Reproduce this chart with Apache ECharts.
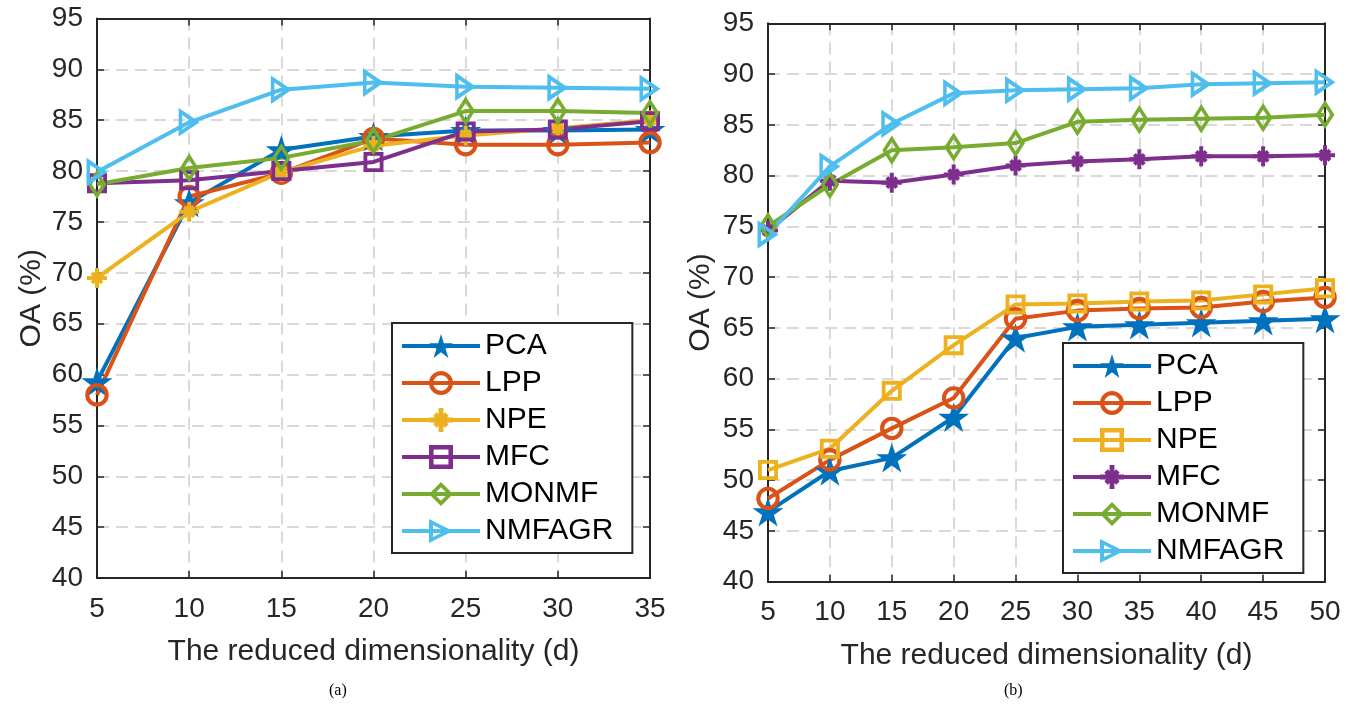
<!DOCTYPE html>
<html><head><meta charset="utf-8">
<script src="https://cdn.jsdelivr.net/npm/echarts@6/dist/echarts.min.js"></script>
<style>html,body{margin:0;padding:0;background:#fff}#c{width:1352px;height:711px}</style>
</head><body><div id="c"></div>
<script>
// ---- data ----
const dimsA = [5, 10, 15, 20, 25, 30, 35];
const dimsB = [5, 10, 15, 20, 25, 30, 35, 40, 45, 50];
const methods = ['PCA', 'LPP', 'NPE', 'MFC', 'MONMF', 'NMFAGR'];

const pcaA    = [59.3, 76.9, 82.1, 83.4, 84.0, 84.0, 84.1];
const lppA    = [58.0, 77.5, 79.8, 83.2, 82.6, 82.6, 82.8];
const npeA    = [69.5, 76.0, 79.9, 82.5, 83.5, 84.2, 85.0];
const mfcA    = [78.8, 79.1, 80.0, 80.9, 83.9, 84.1, 84.9];
const monmfA  = [78.7, 80.3, 81.3, 83.0, 85.9, 85.9, 85.7];
const nmfagrA = [79.9, 84.8, 88.0, 88.7, 88.3, 88.2, 88.1];

const pcaB    = [46.9, 50.9, 52.2, 56.2, 64.0, 65.1, 65.3, 65.5, 65.7, 65.9];
const lppB    = [48.2, 52.0, 55.1, 58.1, 65.9, 66.7, 66.9, 67.0, 67.6, 68.0];
const npeB    = [51.0, 53.1, 58.8, 63.3, 67.3, 67.4, 67.6, 67.7, 68.3, 68.9];
const mfcB    = [74.6, 79.5, 79.3, 80.1, 81.0, 81.4, 81.6, 81.9, 81.9, 82.0];
const monmfB  = [75.0, 79.1, 82.5, 82.8, 83.2, 85.3, 85.5, 85.6, 85.7, 86.0];
const nmfagrB = [74.2, 80.9, 85.1, 88.1, 88.4, 88.5, 88.6, 89.0, 89.1, 89.2];

const yTicks = [40, 45, 50, 55, 60, 65, 70, 75, 80, 85, 90, 95];
const xTicksA = [5, 10, 15, 20, 25, 30, 35];
const xTicksB = [5, 10, 15, 20, 25, 30, 35, 40, 45, 50];

const xTitle = 'The reduced dimensionality (d)';
const yTitle = 'OA (%)';
const captions = ['(a)', '(b)'];

// ---- styles ----
const FONT = '"Liberation Sans", Arial, Helvetica, sans-serif';
const TXT = '#262626';
const colors = {PCA:'#0072BD', LPP:'#D95319', NPE:'#EDB120', MFC:'#7E2F8E', MONMF:'#77AC30', NMFAGR:'#4DBEEE'};
// marker shapes (filled outlines, so stroke width does not depend on borderWidth)
const STAR = 'path://M50,0L61.2,34.5L97.6,34.5L68.2,55.9L79.4,90.5L50,69.1L20.6,90.5L31.8,55.9L2.4,34.5L38.8,34.5Z';
const ASTER = 'path://M0,40L100,40L100,60L0,60Z M40,0L60,0L60,100L40,100Z' +
  'M32.1,17.9L82.1,67.9L67.9,82.1L17.9,32.1Z M17.9,67.9L67.9,17.9L82.1,32.1L32.1,82.1Z';
const RING = 'path://M100,50A50,50 0 1,1 0,50A50,50 0 1,1 100,50Z M82.6,50A32.6,32.6 0 1,0 17.4,50A32.6,32.6 0 1,0 82.6,50Z';
const SQR = 'path://M0,0L100,0L100,100L0,100Z M19,19L19,81L81,81L81,19Z';
const DIA = 'path://M50,0L100,62.5L50,125L0,62.5Z M50,27.8L22.3,62.5L50,97.2L77.7,62.5Z';
const TRI = 'path://M0,0L100,58.3L0,116.7Z M16.75,29.2L16.75,87.5L66.75,58.3Z';
const markers = {
  star:    {symbol: STAR, size: 31},
  circle:  {symbol: RING, size: 23.5},
  aster:   {symbol: ASTER, size: 20},
  square:  {symbol: SQR, size: 20},
  diamond: {symbol: DIA, size: [23.5, 29.4]},
  tri:     {symbol: TRI, size: [24.5, 28.6]}
};
const markA = {PCA:'star', LPP:'circle', NPE:'aster', MFC:'square', MONMF:'diamond', NMFAGR:'tri'};
const markB = {PCA:'star', LPP:'circle', NPE:'square', MFC:'aster', MONMF:'diamond', NMFAGR:'tri'};

function mk(name, label, xs, ys, axisIdx, markKey) {
  const c = colors[name];
  const m = markers[markKey];
  return {
    type: 'line', name: label,
    xAxisIndex: axisIdx, yAxisIndex: axisIdx,
    data: xs.map((x, i) => [x, ys[i]]),
    symbol: m.symbol, symbolSize: m.size, symbolKeepAspect: true,
    showSymbol: true, clip: false,
    lineStyle: {color: c, width: 4},
    itemStyle: {color: c, borderWidth: 0},
    emphasis: {disabled: true},
    z: 3
  };
}

const seriesA = [pcaA, lppA, npeA, mfcA, monmfA, nmfagrA];
const seriesB = [pcaB, lppB, npeB, mfcB, monmfB, nmfagrB];
const series = [];
methods.forEach((m, i) => series.push(mk(m, m, dimsA, seriesA[i], 0, markA[m])));
methods.forEach((m, i) => series.push(mk(m, m + '#b', dimsB, seriesB[i], 2, markB[m])));

const gridLine = {show: true, lineStyle: {color: '#d9d9d9', width: 2, type: [12, 7]}};
const axLine = {show: true, onZero: false, lineStyle: {color: TXT, width: 2}};
const tick = {show: true, inside: true, length: 7, lineStyle: {color: TXT, width: 1.5}};
const lab = {color: TXT, fontSize: 28, fontFamily: FONT};

function xAx(grid, ticks, main) {
  return {
    type: 'value', gridIndex: grid, min: ticks[0], max: ticks[ticks.length - 1], interval: 5,
    position: main ? 'bottom' : 'top',
    axisLine: axLine, axisTick: tick,
    axisLabel: main ? Object.assign({margin: 17}, lab) : {show: false},
    splitLine: main ? gridLine : {show: false},
    name: main ? xTitle : '', nameLocation: 'middle', nameGap: 59,
    nameTextStyle: {color: TXT, fontSize: 30, fontFamily: FONT}
  };
}
function yAx(grid, main, gap) {
  return {
    type: 'value', gridIndex: grid, min: yTicks[0], max: yTicks[yTicks.length - 1], interval: 5,
    position: main ? 'left' : 'right',
    axisLine: axLine, axisTick: tick,
    axisLabel: main ? Object.assign({margin: 14}, lab) : {show: false},
    splitLine: main ? gridLine : {show: false},
    name: main ? yTitle : '', nameLocation: 'middle', nameGap: gap, nameRotate: 90,
    nameTextStyle: {color: TXT, fontSize: 30, fontFamily: FONT}
  };
}

function legend(left, top, names) {
  return {
    orient: 'vertical', left: left, top: top,
    data: names,
    itemWidth: 78, itemHeight: 30, itemGap: 7,
    padding: [8, 19, 7, 8],
    backgroundColor: '#fff', borderColor: TXT, borderWidth: 2, borderRadius: 0,
    textStyle: {color: '#000', fontSize: 30, fontFamily: FONT},
    lineStyle: {width: 4},
    itemStyle: {borderWidth: 0},
    formatter: n => n.split('#')[0],
    selectedMode: false
  };
}

const chart = echarts.init(document.getElementById('c'), null, {renderer: 'canvas'});
const capStyle = {fontFamily: '"Liberation Serif", "Times New Roman", serif', fontSize: 16, fontWeight: 'normal', color: '#000'};
chart.setOption({
  animation: false,
  backgroundColor: '#fff',
  title: [
    {text: captions[0], left: 324, top: 678, textStyle: capStyle},
    {text: captions[1], left: 999, top: 678, textStyle: capStyle}
  ],
  grid: [
    {left: 97, top: 18.5, width: 553, height: 559.5},
    {left: 768, top: 23.3, width: 557, height: 558.4}
  ],
  xAxis: [xAx(0, xTicksA, true), xAx(0, xTicksA, false), xAx(1, xTicksB, true), xAx(1, xTicksB, false)],
  yAxis: [yAx(0, true, 50), yAx(0, false, 0), yAx(1, true, 52), yAx(1, false, 0)],
  legend: [legend(392, 323, methods), legend(1063, 343, methods.map(m => m + '#b'))],
  series: series
});
</script></body></html>
